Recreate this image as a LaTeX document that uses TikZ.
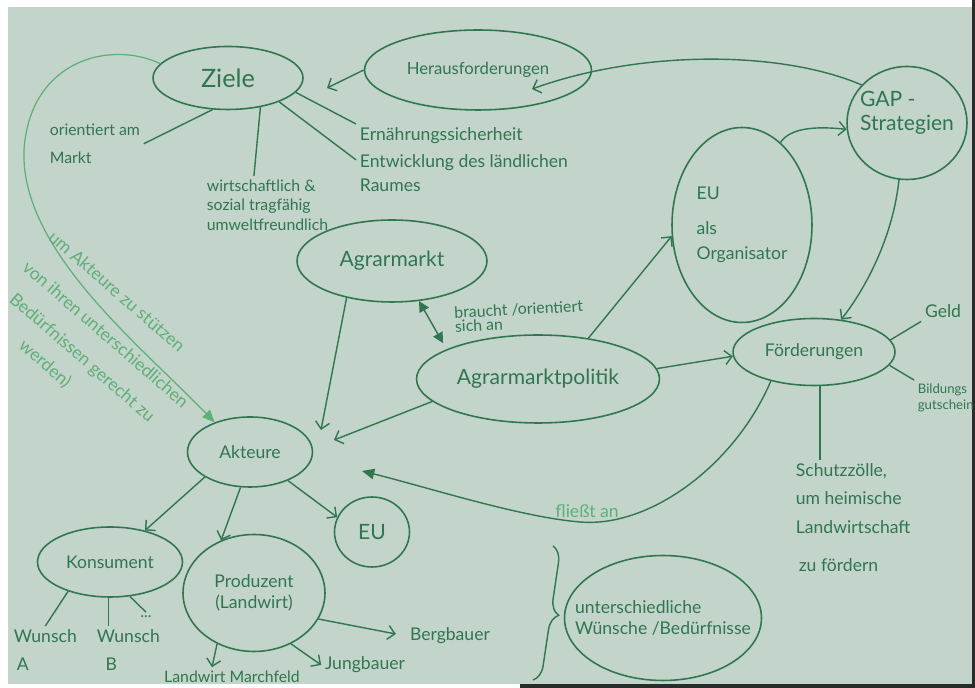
\documentclass[tikz,border=0pt]{standalone}
\usepackage{fontspec}
\setmainfont{Lato}
\usetikzlibrary{shapes.geometric,arrows.meta,decorations.pathreplacing}
\definecolor{paper}{RGB}{195,212,202}
\definecolor{ink}{RGB}{48,118,80}
\definecolor{pale}{RGB}{95,175,120}
\definecolor{rim}{RGB}{40,44,42}
\begin{document}
\begin{tikzpicture}[x=0.02cm,y=-0.02cm,
  bubble/.style={ellipse,draw=ink,line width=.9pt,text=ink,inner sep=-1cm},
  lbl/.style={text=ink,inner sep=2pt},
  soft/.style={text=pale,inner sep=1pt,font=\fontsize{10}{12}\selectfont},
  ln/.style={draw=ink,line width=.8pt},
  arr/.style={ln,-{Straight Barb[length=4pt,width=8pt]}},
  tri/.style={-{Triangle[length=7pt,width=6pt]}}]
\fill[white] (0,0) rectangle (975,688);
\useasboundingbox (0,0) rectangle (975,688);
\fill[paper] (8,7) rectangle (972,684);
\fill[rim] (972,0) rectangle (975,688);
\fill[rim] (520,684) rectangle (975,688);
\node[bubble,minimum width=3cm,minimum height=1.26cm,font=\Large] (ziele) at (228,78) {Ziele};
\node[bubble,minimum width=4.54cm,minimum height=1.6cm,font=\fontsize{9.5}{11}\selectfont] (herausf) at (478,70) {Herausforderungen\\\mbox{}};
\node[bubble,minimum width=2.4cm,minimum height=2.26cm,font=\large,align=left] (gap) at (907,123) {GAP -\\Strategien\\\mbox{}};
\node[bubble,minimum width=2.8cm,minimum height=3.9cm,align=left] (euorg) at (742,225) {EU\\[8pt]als\\[2pt]Organisator};
\node[bubble,minimum width=3.8cm,minimum height=1.64cm,font=\large] (markt) at (392,261) {Agrarmarkt};
\node[bubble,minimum width=4.86cm,minimum height=1.76cm,font=\large] (politik) at (538,379) {Agrarmarktpolitik};
\node[bubble,minimum width=3.24cm,minimum height=1.34cm] (foerd) at (814,352) {Förderungen};
\node[bubble,minimum width=2.5cm,minimum height=1.4cm] (akteure) at (250,452) {Akteure};
\node[bubble,minimum width=1.5cm,minimum height=1.4cm,font=\large] (eu) at (372,532) {EU};
\node[bubble,minimum width=2.9cm,minimum height=1.4cm] (konsum) at (110,562) {Konsument};
\node[bubble,minimum width=2.84cm,minimum height=2.34cm,align=center] (produz) at (254,593) {Produzent\\(Landwirt)};
\node[bubble,minimum width=3.94cm,minimum height=2.5cm,align=left] (wuensche) at (663,618) {unterschiedliche\\Wünsche /Bedürfnisse};
\node[lbl,anchor=north west,align=left,font=\small] (orient) at (46,120) {orientiert am\\[5pt]Markt};
\node[lbl,anchor=north west,align=left,font=\small] (wirtsch) at (203,176) {wirtschaftlich \&\\sozial tragfähig\\umweltfreundlich};
\node[lbl,anchor=north west,align=left] (ernaehr) at (356,124) {Ernährungssicherheit\\[3pt]Entwicklung des ländlichen\\[2pt]Raumes};
\node[lbl] (geld) at (943,311) {Geld};
\node[lbl,anchor=north west,align=left,font=\fontsize{7.5}{9}\selectfont] (bildung) at (914,380) {Bildungs\\gutschein};
\node[lbl,anchor=north west,align=left] (schutz) at (792,460) {Schutzzölle,\\[4pt]um heimische\\[4pt]Landwirtschaft\\[10pt]\,zu fördern};
\node[lbl] (bergb) at (450,636) {Bergbauer};
\node[lbl] (jungb) at (365,665) {Jungbauer};
\node[lbl,font=\small] (marchf) at (232,677) {Landwirt Marchfeld};
\node[lbl,anchor=north west,align=left] (wunschA) at (10,626) {Wunsch\\[4pt]\,A};
\node[lbl,anchor=north west,align=left] (wunschB) at (93,626) {Wunsch\\[4pt]\enspace B};
\node[lbl,font=\small] (dots) at (146,617) {...};
\node[lbl,anchor=north west,align=left,font=\small,rotate=3] (braucht) at (450,303) {braucht /orientiert\\[-3pt]sich an};
\node[soft] (fliesst) at (587,511) {fließt an};
\node[soft,anchor=west,rotate=-41] (stuetzen) at (50,233) {um Akteure zu stützen};
\node[soft,anchor=west,rotate=-41] (von) at (24,263) {von ihren unterschiedlichen};
\node[soft,anchor=west,rotate=-41] (beduerf) at (10,296) {Bedürfnissen gerecht zu};
\node[soft,anchor=west,rotate=-41] (werden) at (20,342) {werden)};
\coordinate (zA) at (327,88);
\coordinate (hA) at (532,89);
\coordinate (aA) at (321,430);
\coordinate (aB) at (334,440);
\coordinate (aC) at (362,471);
\draw[arr] (herausf.west) -- (zA);
\draw[arr] (gap.140) .. controls (780,50) and (640,50) .. (hA);
\draw[arr] (euorg.65) .. controls (790,128) and (815,126) .. (gap.186);
\draw[arr] (gap.262) .. controls (893,235) and (868,285) .. (foerd.50);
\draw[arr] (politik.39) -- (euorg.189);
\draw[arr] (politik.5) -- (foerd.183);
\draw[ln,{Triangle[length=6pt,width=6pt]}-{Triangle[length=6pt,width=6pt]},shorten >=4pt] (markt.-56) -- (politik.162);
\draw[arr] (markt.219) -- (aA);
\draw[arr] (politik.192) -- (aB);
\draw[ln,tri] (foerd.214) .. controls (735,465) and (650,528) .. (580,522) .. controls (520,517) and (430,488) .. (aC);
\draw[draw=pale,line width=.7pt,tri] (ziele.168) .. controls (110,40) and (30,60) .. (24,150) .. controls (20,250) and (140,345) .. (akteure.140);
\draw[ln] (ziele.244) -- (orient.east);
\draw[ln] (ziele.-42) -- (wirtsch.115);
\draw[ln] (ziele.-12) -- (ernaehr.north west);
\draw[ln] (ziele.-25) -- (ernaehr.west);
\draw[ln] (foerd.9) -- (geld.south west);
\draw[ln] (foerd.-10) -- (bildung.north west);
\draw[ln] (foerd.-80) -- (foerd.-80 |- schutz.north);
\draw[arr,shorten >=6pt] (produz.-22) -- (bergb.west);
\draw[arr] (produz.-54) -- (jungb.west);
\draw[arr] (produz.234) -- (marchf.154);
\draw[arr] (akteure.209) -- (konsum.42);
\draw[arr] (akteure.255) -- (produz.122);
\draw[arr] (akteure.-37) -- (eu.157);
\draw[ln] (konsum.215) -- (wunschA.north);
\draw[ln] (konsum.-92) -- (konsum.-92 |- wunschB.north);
\draw[ln] (konsum.-60) -- (dots.north);
\draw[ln,decorate,decoration={brace,amplitude=9pt}] (553,546) -- (533,680);
\end{tikzpicture}
\end{document}
